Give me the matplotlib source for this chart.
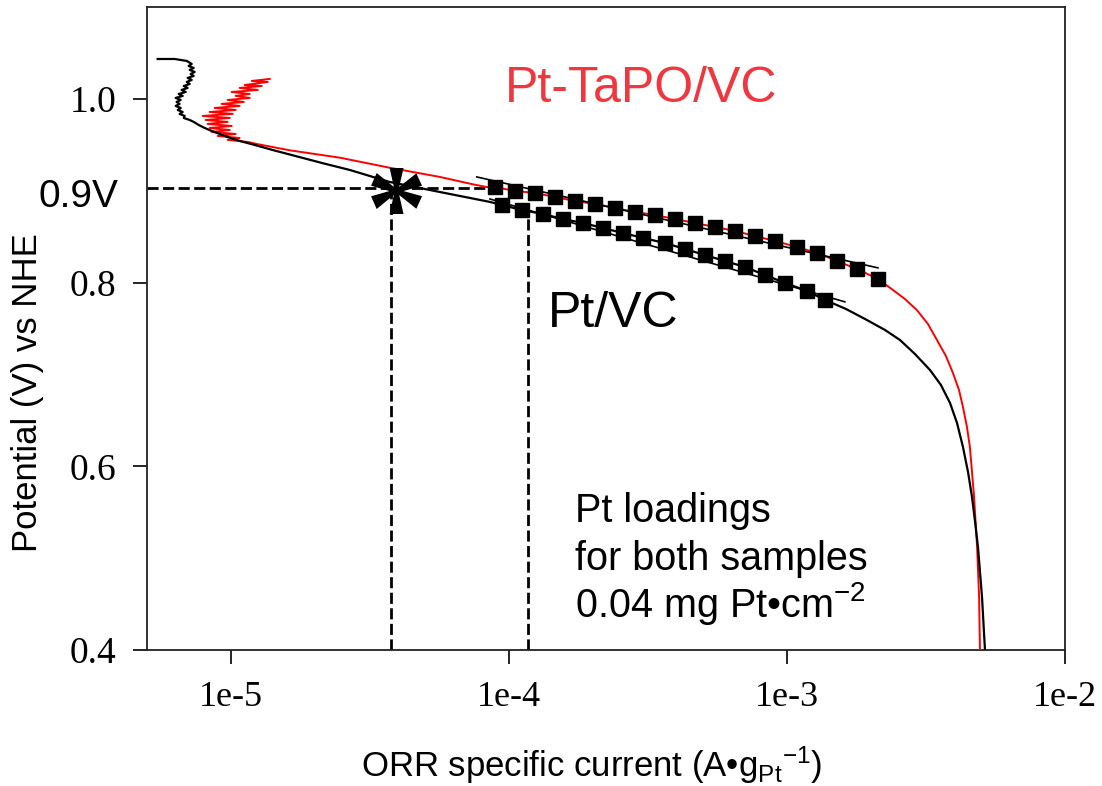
import numpy as np
import matplotlib
matplotlib.use("Agg")
import matplotlib.pyplot as plt

plt.rcParams['font.family'] = ['Liberation Sans', 'DejaVu Sans']
plt.rcParams['mathtext.fontset'] = 'custom'
plt.rcParams['mathtext.rm'] = 'Liberation Sans'
plt.rcParams['mathtext.it'] = 'Liberation Sans:italic'
plt.rcParams['mathtext.default'] = 'regular'

# ---- data: current (A/gPt), potential (V vs NHE)
# Pt/VC (black) polarisation curve
ptvc_i = [5.46e-6, 6.29e-6, 6.95e-6, 7.24e-6, 7.06e-6, 7.36e-6, 7.12e-6, 7.42e-6, 7.18e-6,
          7.36e-6, 7.00e-6, 7.24e-6, 6.95e-6, 7.12e-6, 6.78e-6, 7.00e-6, 6.66e-6, 6.89e-6,
          6.50e-6, 6.72e-6, 6.34e-6, 6.61e-6, 6.39e-6, 6.55e-6, 6.34e-6, 6.61e-6, 6.45e-6,
          6.72e-6, 6.55e-6, 6.83e-6, 6.78e-6, 7.12e-6, 7.36e-6, 7.67e-6, 8.06e-6, 8.54e-6,
          9.13e-6, 9.75e-6, 1.077e-5, 1.220e-5, 1.416e-5,
          2.14e-5, 2.68e-5, 3.73e-5, 5.65e-5, 8.55e-5,
          9.44e-5, 1.114e-4, 1.325e-4, 1.563e-4, 1.846e-4, 2.178e-4, 2.571e-4, 3.034e-4,
          3.64e-4, 4.296e-4, 5.07e-4, 5.98e-4, 7.06e-4, 8.33e-4, 9.84e-4, 1.18e-3, 1.37e-3,
          1.63e-3, 1.908e-3, 2.252e-3, 2.55e-3, 2.886e-3, 3.27e-3, 3.58e-3, 3.86e-3,
          4.09e-3, 4.296e-3, 4.48e-3, 4.63e-3, 4.75e-3, 4.865e-3, 5.03e-3, 5.155e-3]
ptvc_e = [1.0434, 1.0434, 1.0413, 1.0380, 1.0358, 1.0336, 1.0315, 1.0293, 1.0271,
          1.0249, 1.0228, 1.0206, 1.0184, 1.0162, 1.0140, 1.0119, 1.0097, 1.0075,
          1.0053, 1.0032, 1.0010, 0.9988, 0.9966, 0.9945, 0.9923, 0.9901, 0.9879,
          0.9857, 0.9836, 0.9814, 0.9792, 0.9770, 0.9749, 0.9716, 0.9683, 0.9651,
          0.9618, 0.9585, 0.9542, 0.9498, 0.9443,
          0.930, 0.9226, 0.9095, 0.8986, 0.8878,
          0.8845, 0.879, 0.8747, 0.8692, 0.8649, 0.8594, 0.854, 0.8486,
          0.8431, 0.8366, 0.830, 0.8235, 0.817, 0.8083, 0.7996, 0.7909, 0.7811,
          0.7713, 0.7604, 0.7484, 0.7375, 0.7223, 0.7048, 0.6885, 0.6689,
          0.6471, 0.621, 0.5938, 0.5666, 0.5394, 0.5121, 0.4577, 0.400]

# Pt-TaPO/VC (red) polarisation curve
tapo_i = [1.381e-5, 1.190e-5, 1.359e-5, 1.123e-5, 1.293e-5, 1.077e-5, 1.251e-5, 1.008e-5,
          1.170e-5, 1.042e-5, 1.170e-5, 9.75e-6, 1.114e-5, 9.28e-6, 1.077e-5, 8.76e-6,
          1.042e-5, 8.40e-6, 1.017e-5, 7.93e-6, 9.92e-6, 8.13e-6, 9.75e-6, 8.26e-6,
          1.008e-5, 8.40e-6, 9.92e-6, 8.54e-6, 1.042e-5, 8.98e-6, 1.077e-5, 9.75e-6,
          1.151e-5, 1.240e-5,
          1.63e-5, 2.466e-5, 3.73e-5, 5.65e-5, 7.42e-5, 8.33e-5,
          8.91e-5, 1.051e-4, 1.24e-4, 1.463e-4, 1.728e-4, 2.039e-4, 2.405e-4, 2.84e-4,
          3.35e-4, 3.954e-4, 4.667e-4, 5.51e-4, 6.50e-4, 7.67e-4, 9.05e-4, 1.086e-3,
          1.282e-3, 1.513e-3, 1.786e-3, 2.125e-3,
          2.405e-3, 2.657e-3, 2.935e-3, 3.215e-3, 3.464e-3, 3.73e-3, 3.954e-3, 4.157e-3,
          4.296e-3, 4.44e-3, 4.55e-3, 4.63e-3, 4.71e-3, 4.83e-3, 4.91e-3, 4.945e-3]
tapo_e = [1.0217, 1.0195, 1.0184, 1.0151, 1.0140, 1.0119, 1.0097, 1.0075,
          1.0053, 1.0032, 1.0010, 0.9988, 0.9966, 0.9945, 0.9923, 0.9901,
          0.9879, 0.9857, 0.9836, 0.9814, 0.9792, 0.9770, 0.9749, 0.9727,
          0.9705, 0.9683, 0.9661, 0.9640, 0.9618, 0.9596, 0.9574, 0.9553,
          0.9531, 0.9509,
          0.944, 0.936, 0.925, 0.915, 0.907, 0.904,
          0.9041, 0.8997, 0.8976, 0.8932, 0.8888, 0.8856, 0.8812, 0.8769,
          0.8736, 0.8692, 0.8649, 0.8605, 0.8562, 0.8507, 0.8453, 0.8388,
          0.8322, 0.8235, 0.8148, 0.8039,
          0.792, 0.7821, 0.770, 0.7549, 0.7375, 0.7201, 0.7016, 0.6831,
          0.6646, 0.6428, 0.621, 0.5938, 0.5666, 0.5121, 0.4577, 0.400]

# square markers (Tafel region points)
sq_tapo_i = tapo_i[40:60]
sq_tapo_e = tapo_e[40:60]
sq_ptvc_i = ptvc_i[46:63]
sq_ptvc_e = ptvc_e[46:63]

# Tafel fit lines (end points)
fit_tapo_i = [7.67e-5, 2.125e-3]
fit_tapo_e = [0.915, 0.816]
fit_ptvc_i = [8.55e-5, 1.616e-3]
fit_ptvc_e = [0.891, 0.779]

# 0.9 V guide lines
e_09 = 0.903
i_star = 3.76e-5
i_ptvc_09 = 1.17e-4
e_ptvc_top = 0.8845

xticks = [1e-5, 1e-4, 1e-3, 1e-2]
xticklabels = ['1e-5', '1e-4', '1e-3', '1e-2']
yticks = [0.4, 0.6, 0.8, 1.0]
yticklabels = ['0.4', '0.6', '0.8', '1.0']

fig = plt.figure(figsize=(11.02, 7.86), dpi=100)
ax = fig.add_axes([147 / 1102, 1 - 650 / 786, 918 / 1102, 643 / 786])

ax.plot(tapo_i, tapo_e, color='#ff0000', lw=1.4, zorder=3)
ax.plot(ptvc_i, ptvc_e, color='black', lw=1.6, zorder=3)
ax.plot(fit_tapo_i, fit_tapo_e, color='black', lw=1.2, zorder=4)
ax.plot(fit_ptvc_i, fit_ptvc_e, color='black', lw=1.2, zorder=4)
ax.plot(sq_tapo_i, sq_tapo_e, ls='none', marker='s', ms=10.5, color='black', zorder=5)
ax.plot(sq_ptvc_i, sq_ptvc_e, ls='none', marker='s', ms=10.5, color='black', zorder=5)

dash = dict(color='black', lw=2.0, ls=(0, (4, 1.6)), zorder=2)
ax.plot([5e-6, 8.33e-5], [e_09, e_09], **dash)
ax.plot([i_star, i_star], [0.4, e_09], **dash)
ax.plot([i_ptvc_09, i_ptvc_09], [0.4, e_ptvc_top], **dash)

ax.annotate('*', xy=(3.95e-5, e_09), xytext=(0, -13), textcoords='offset points',
            family='Liberation Serif', fontsize=88, fontweight='bold',
            ha='center', va='center_baseline', zorder=6)

ax.set_xscale('log')
ax.set_xlim(5e-6, 1e-2)
ax.set_ylim(0.4, 1.1)
ax.set_xticks(xticks)
ax.set_xticklabels(xticklabels, family='Liberation Serif', fontsize=26)
ax.xaxis.set_minor_locator(matplotlib.ticker.NullLocator())
ax.set_yticks(yticks)
ax.set_yticklabels(yticklabels, family='Liberation Serif', fontsize=27)
ax.tick_params(direction='out', length=10, width=1.2, pad=12)

for s in ax.spines.values():
    s.set_linewidth(1.3)
    s.set_color('#222222')

ax.set_xlabel('ORR specific current (A\u2022g$_{Pt}{}^{-1}$)', fontsize=25)
ax.xaxis.set_label_coords((592 - 147) / 918, (650 - 744) / 643)
ax.set_ylabel('Potential (V) vs NHE', fontsize=25, va='center')
ax.yaxis.set_label_coords((28 - 147) / 918, (650 - 393) / 643)

ax.text(9.67e-5, 0.9966, 'Pt-TaPO/VC', color='#f0373f', fontsize=36, ha='left', va='baseline')
ax.text(1.381e-4, 0.7517, 'Pt/VC', color='black', fontsize=36, ha='left', va='baseline')
fig.text(38 / 1102, 1 - 207 / 786, '0.9V', fontsize=28, ha='left', va='baseline')

ax.text(1.728e-4, 0.5394, 'Pt loadings', fontsize=28.5, ha='left', va='baseline')
ax.text(1.728e-4, 0.4871, 'for both samples', fontsize=28.5, ha='left', va='baseline')
ax.text(1.728e-4, 0.4359, '0.04 mg Pt\u2022cm$^{-2}$', fontsize=28.5, ha='left', va='baseline')

fig.savefig('out.png', dpi=100)
